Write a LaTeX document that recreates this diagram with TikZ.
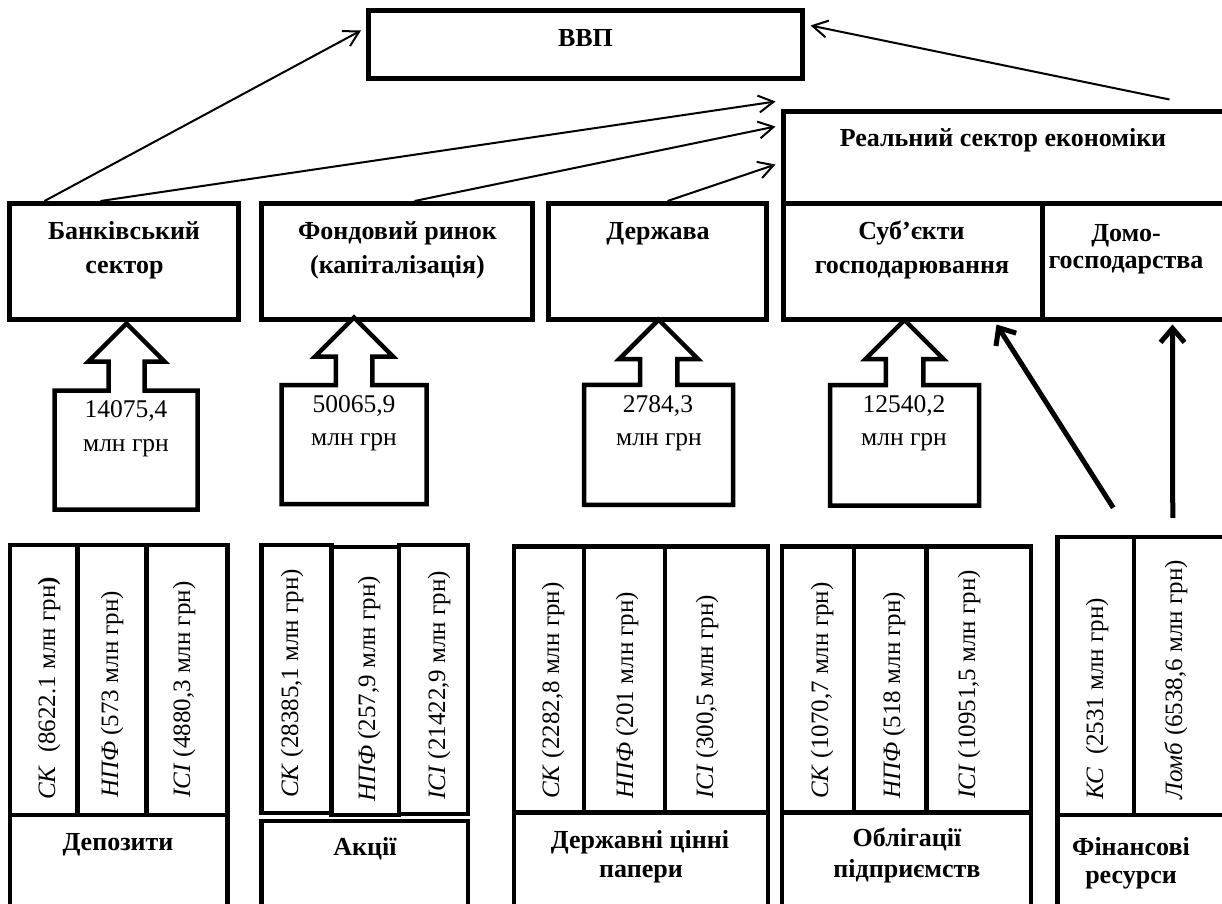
\documentclass[tikz,border=0pt]{standalone}
\usepackage{fontspec}
\setmainfont{Liberation Serif}
\usetikzlibrary{arrows.meta,calc}
\tikzset{
  box/.style={draw, line width=5pt, inner sep=0pt, line join=miter},
  cell/.style={draw, line width=4.5pt, inner sep=0pt, line join=miter},
  lbl/.style={font=\fontsize{26}{30}\selectfont\bfseries, anchor=base, inner sep=0pt},
  num/.style={font=\fontsize{25.5}{30}\selectfont, anchor=base, inner sep=0pt},
  vtext/.style={font=\fontsize{25}{30}\selectfont, rotate=90, anchor=base west, inner sep=0pt},
  conn/.style={line width=2pt, -{Straight Barb[length=15pt,width=17pt]}},
  bigconn/.style={line width=5pt, -{Straight Barb[length=14pt,width=24pt]}},
  blockarrow/.style={draw, line width=4.5pt, line join=miter, fill=white}
}
% style, name, x1, y1, x2, y2 (pixel coordinates, y downwards)
\newcommand\mkbox[6]{%
  \pgfmathsetmacro\bxw{#5-#3}\pgfmathsetmacro\bxh{#6-#4}%
  \node[#1, minimum width=\bxw pt, minimum height=\bxh pt] (#2) at ({(#3+#5)/2},{(#4+#6)/2}) {};}
% cx, bodyL, bodyR, bodyTop, bodyBot, shaftHalf, wingHalf, wingY
\newcommand\blockarr[8]{%
  \draw[blockarrow] (#2,#4) -- ({#1-#6},#4) -- ({#1-#6},#8) -- ({#1-#7},#8) -- (#1,{#8-#7})
    -- ({#1+#7},#8) -- ({#1+#6},#8) -- ({#1+#6},#4) -- (#3,#4) -- (#3,#5) -- (#2,#5) -- cycle;}
\begin{document}
\begin{tikzpicture}[x=1pt,y=-1pt]
\useasboundingbox (0,0) rectangle (1222,903);
\clip (0,0) rectangle (1222,903);

% top boxes
\mkbox{box}{vvp}{368.5}{10.5}{802.5}{78.5}
\mkbox{box}{bank}{9.5}{203.5}{238.5}{319.5}
\mkbox{box}{fond}{261.5}{203.5}{532.5}{319.5}
\mkbox{box}{derzh}{548.5}{203.5}{766.5}{319.5}
\mkbox{box}{realtop}{783.5}{111.5}{1250}{203}
\mkbox{box}{subj}{783.5}{203}{1042}{319.5}
\mkbox{box}{domo}{1042}{203}{1250}{319.5}

\node[lbl] (vvpt) at (585.5,46) {ВВП};
\node[lbl] (realt) at (1003,146) {Реальний сектор економіки};
\node[lbl] (bankt1) at (124,239) {Банківський};
\node[lbl] (bankt2) at (124.5,273) {сектор};
\node[lbl] (fondt1) at (397.5,239) {Фондовий ринок};
\node[lbl] (fondt2) at (397.5,273) {(капіталізація)};
\node[lbl] (derzht) at (658,239) {Держава};
\node[lbl] (subjt1) at (911.5,239) {Суб’єкти};
\node[lbl] (subjt2) at (912,273) {господарювання};
\node[lbl] (domot1) at (1126,241) {Домо-};
\node[lbl] (domot2) at (1126,268) {господарства};

% block arrows
\blockarr{126.5}{54.5}{197.5}{390.5}{509.5}{18}{38}{361.5}
\blockarr{354}{281.7}{426.5}{385}{504}{18.25}{39}{356.5}
\blockarr{658.7}{584.2}{733.2}{384.8}{504.8}{18.6}{39.5}{359.2}
\blockarr{904.5}{830}{979}{385}{505.5}{18.75}{39}{359}

\node[num] (ba1a) at (126,417) {14075,4};
\node[num] (ba1b) at (126,451) {млн грн};
\node[num] (ba2a) at (354,412) {50065,9};
\node[num] (ba2b) at (354,445) {млн грн};
\node[num] (ba3a) at (658,412) {2784,3};
\node[num] (ba3b) at (659,445) {млн грн};
\node[num] (ba4a) at (904,412) {12540,2};
\node[num] (ba4b) at (904,445) {млн грн};

% bottom groups
\mkbox{cell}{g1c1}{9.8}{545}{77.5}{815}
\mkbox{cell}{g1c2}{77.5}{545}{146.7}{815}
\mkbox{cell}{g1c3}{146.7}{545}{227.5}{815}
\mkbox{cell}{g1low}{9.8}{815}{227.5}{920}

\mkbox{cell}{g2c1}{261.7}{545}{331.3}{813}
\mkbox{cell}{g2c2}{331.3}{547}{399.2}{815}
\mkbox{cell}{g2c3}{399.2}{545}{468.2}{814}
\mkbox{cell}{g2low}{261.7}{821}{468.2}{920}

\mkbox{cell}{g3c1}{514}{546.5}{584}{812.5}
\mkbox{cell}{g3c2}{584}{546.5}{665}{812.5}
\mkbox{cell}{g3c3}{665}{546.5}{768}{812.5}
\mkbox{cell}{g3low}{514}{812.5}{768}{920}

\mkbox{cell}{g4c1}{782}{546.5}{854}{812.5}
\mkbox{cell}{g4c2}{854}{546.5}{926.5}{812.5}
\mkbox{cell}{g4c3}{926.5}{546.5}{1031}{812.5}
\mkbox{cell}{g4low}{782}{812.5}{1031}{920}

\mkbox{cell}{g5c1}{1057.5}{537}{1134}{815}
\mkbox{cell}{g5c2}{1134}{537}{1250}{815}
\mkbox{cell}{g5low}{1057.5}{815}{1250}{920}

\node[vtext] (g1t1) at (55,800) {\textit{СК}\ \ (8622.1 млн грн\textbf{)}};
\node[vtext] (g1t2) at (118,798) {\textit{НПФ} (573 млн грн)};
\node[vtext] (g1t3) at (190,798) {\textit{ІСІ} (4880,3 млн грн)};
\node[vtext] (g2t1) at (298,798) {\textit{СК} (28385,1 млн грн)};
\node[vtext] (g2t2) at (375,802) {\textit{НПФ} (257,9 млн грн)};
\node[vtext] (g2t3) at (445,800) {\textit{ІСІ} (21422,9 млн грн)};
\node[vtext] (g3t1) at (559,799) {\textit{СК} (2282,8 млн грн)};
\node[vtext] (g3t2) at (633,799) {\textit{НПФ} (201 млн грн)};
\node[vtext] (g3t3) at (713,799) {\textit{ІСІ} (300,5 млн грн)};
\node[vtext] (g4t1) at (828,799) {\textit{СК} (1070,7 млн грн)};
\node[vtext] (g4t2) at (900,799) {\textit{НПФ} (518 млн грн)};
\node[vtext] (g4t3) at (975,799) {\textit{ІСІ} (10951,5 млн грн)};
\node[vtext] (g5t1) at (1103,800) {\textit{КС}\ \ (2531 млн грн)};
\node[vtext] (g5t2) at (1182,800) {\textit{Ломб} (6538,6 млн грн)};

\node[lbl] (g1l) at (118,850) {Депозити};
\node[lbl] (g2l) at (365,855) {Акції};
\node[lbl] (g3l1) at (640,848) {Державні цінні};
\node[lbl] (g3l2) at (641,877) {папери};
\node[lbl] (g4l1) at (907,846) {Облігації};
\node[lbl] (g4l2) at (907,877) {підприємств};
\node[lbl] (g5l1) at (1131,855) {Фінансові};
\node[lbl] (g5l2) at (1131,883) {ресурси};

% connectors
\draw[conn] ($(bank.north west)+(37.5,0)$) -- ($(vvp.north west)+(-5,22.5)$);
\draw[conn] ($(bank.north west)+(93.5,0)$) -- ($(realtop.north west)+(-5.5,-7.5)$);
\draw[conn] ($(fond.north west)+(155.5,0)$) -- ($(realtop.north west)+(-5.5,17.5)$);
\draw[conn] ($(derzh.north west)+(121.5,0)$) -- ($(realtop.north west)+(-5.5,55.5)$);
\draw[conn] ($(realtop.north west)+(388.5,-9.5)$) -- ($(vvp.north east)+(5.5,17.5)$);
\draw[bigconn] ($(g5c1.north east)+(-23,-27)$) -- ($(subj.south east)+(-48,2.5)$);
\draw[bigconn] ($(g5c2.north west)+(41,-17)$) -- ($(domo.south west)+(133,2.5)$);
\end{tikzpicture}
\end{document}
